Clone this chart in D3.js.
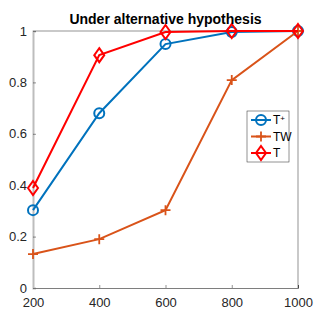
<!DOCTYPE html>
<html>
<head>
<meta charset="utf-8">
<script src="https://cdn.jsdelivr.net/npm/d3@7"></script>
<style>
  body { margin: 0; background: #fff; }
  svg { display: block; font-family: "Liberation Sans", Arial, sans-serif; }
</style>
</head>
<body>
<svg id="chart" width="327" height="327"></svg>
<script>
/************
** data
*************/
var sampleSizes = [200, 400, 600, 800, 1000];
var tPlus = [0.303, 0.68, 0.949, 0.996, 1.0];
var tw = [0.132, 0.19, 0.303, 0.809, 1.0];
var tStat = [0.389, 0.906, 0.996, 1.0, 1.0];
var xTicks = [200, 400, 600, 800, 1000];
var yTicks = [0, 0.2, 0.4, 0.6, 0.8, 1];

var blue = "#0072BD";
var orange = "#D95319";
var red = "#FF0000";

var margin = { top: 31, right: 29, bottom: 39, left: 33 };
var width = 327 - margin.left - margin.right;
var height = 327 - margin.top - margin.bottom;

var svg = d3.select('#chart');
var g = svg.append('g').attr('transform', 'translate(' + margin.left + ',' + margin.top + ')');

var x = d3.scaleLinear().domain([200, 1000]).range([0, width]);
var y = d3.scaleLinear().domain([0, 1]).range([height, 0]);

// frame (top / right)
g.append('path')
    .attr('d', 'M0,0H' + width + 'V' + height)
    .attr('fill', 'none').attr('stroke', '#262626').attr('stroke-width', 0.5);

// axes
var xAxis = g.append('g').attr('transform', 'translate(0,' + height + ')')
    .call(d3.axisBottom(x).tickValues(xTicks).tickSize(-3).tickPadding(6).tickFormat(d3.format('d')));
var yAxis = g.append('g')
    .call(d3.axisLeft(y).tickValues(yTicks).tickSize(-3).tickPadding(6).tickFormat(function(d){ return d3.format('')(d); }));

[xAxis, yAxis].forEach(function(a){
    a.select('.domain').attr('stroke', '#262626').attr('stroke-width', 0.6);
    a.selectAll('.tick line').attr('stroke', '#262626').attr('stroke-width', 0.5);
    a.selectAll('.tick text').attr('fill', '#262626').style('font-size', '13px');
});
// left axis line appears gray and thicker
yAxis.select('.domain').attr('stroke', '#bdbdbd').attr('stroke-width', 2);
xAxis.selectAll('.tick text').attr('dy', '1.0em');

// title
svg.append('text')
    .attr('x', margin.left + width / 2).attr('y', 24)
    .attr('text-anchor', 'middle')
    .style('font-size', '14px').style('font-weight', 'bold').attr('fill', '#000')
    .text('Under alternative hypothesis');

var line = d3.line().x(function(d){ return x(d[0]); }).y(function(d){ return y(d[1]); });

function drawMarker(sel, type, color) {
    if (type === 'circle') {
        sel.append('circle').attr('r', 5).attr('fill', 'none').attr('stroke', color).attr('stroke-width', 2);
    } else if (type === 'plus') {
        sel.append('path').attr('d', 'M-5,0H5M0,-5V5').attr('stroke', color).attr('stroke-width', 1.8);
    } else {
        sel.append('path').attr('d', 'M0,-7L5,0L0,7L-5,0Z').attr('fill', 'none').attr('stroke', color).attr('stroke-width', 2);
    }
}

var series = [
    { name: 'T', sup: '+', values: tPlus, color: blue, marker: 'circle' },
    { name: 'TW', sup: '', values: tw, color: orange, marker: 'plus' },
    { name: 'T', sup: '', values: tStat, color: red, marker: 'diamond' }
];

series.forEach(function(s){
    var pts = sampleSizes.map(function(n, i){ return [n, s.values[i]]; });
    g.append('path').datum(pts).attr('d', line)
        .attr('fill', 'none').attr('stroke', s.color).attr('stroke-width', 2);
    pts.forEach(function(p){
        var m = g.append('g').attr('transform', 'translate(' + x(p[0]) + ',' + y(p[1]) + ')');
        drawMarker(m, s.marker, s.color);
    });
});

/************
** legend
*************/
var legend = svg.append('g').attr('transform', 'translate(247,111)');
legend.append('rect').attr('width', 42).attr('height', 51)
    .attr('fill', '#fff').attr('stroke', '#262626').attr('stroke-width', 0.5);
series.forEach(function(s, i){
    var row = legend.append('g').attr('transform', 'translate(0,' + (9 + i * 16.5) + ')');
    row.append('line').attr('x1', 4).attr('x2', 24).attr('stroke', s.color).attr('stroke-width', 2);
    var m = row.append('g').attr('transform', 'translate(14,0)');
    drawMarker(m, s.marker, s.color);
    var t = row.append('text').attr('x', 26).attr('dy', '0.35em')
        .style('font-size', '12px').attr('fill', '#000').text(s.name);
    if (s.sup) {
        t.append('tspan').attr('dy', '-0.45em').style('font-size', '8px').text(s.sup);
    }
});
</script>
</body>
</html>
